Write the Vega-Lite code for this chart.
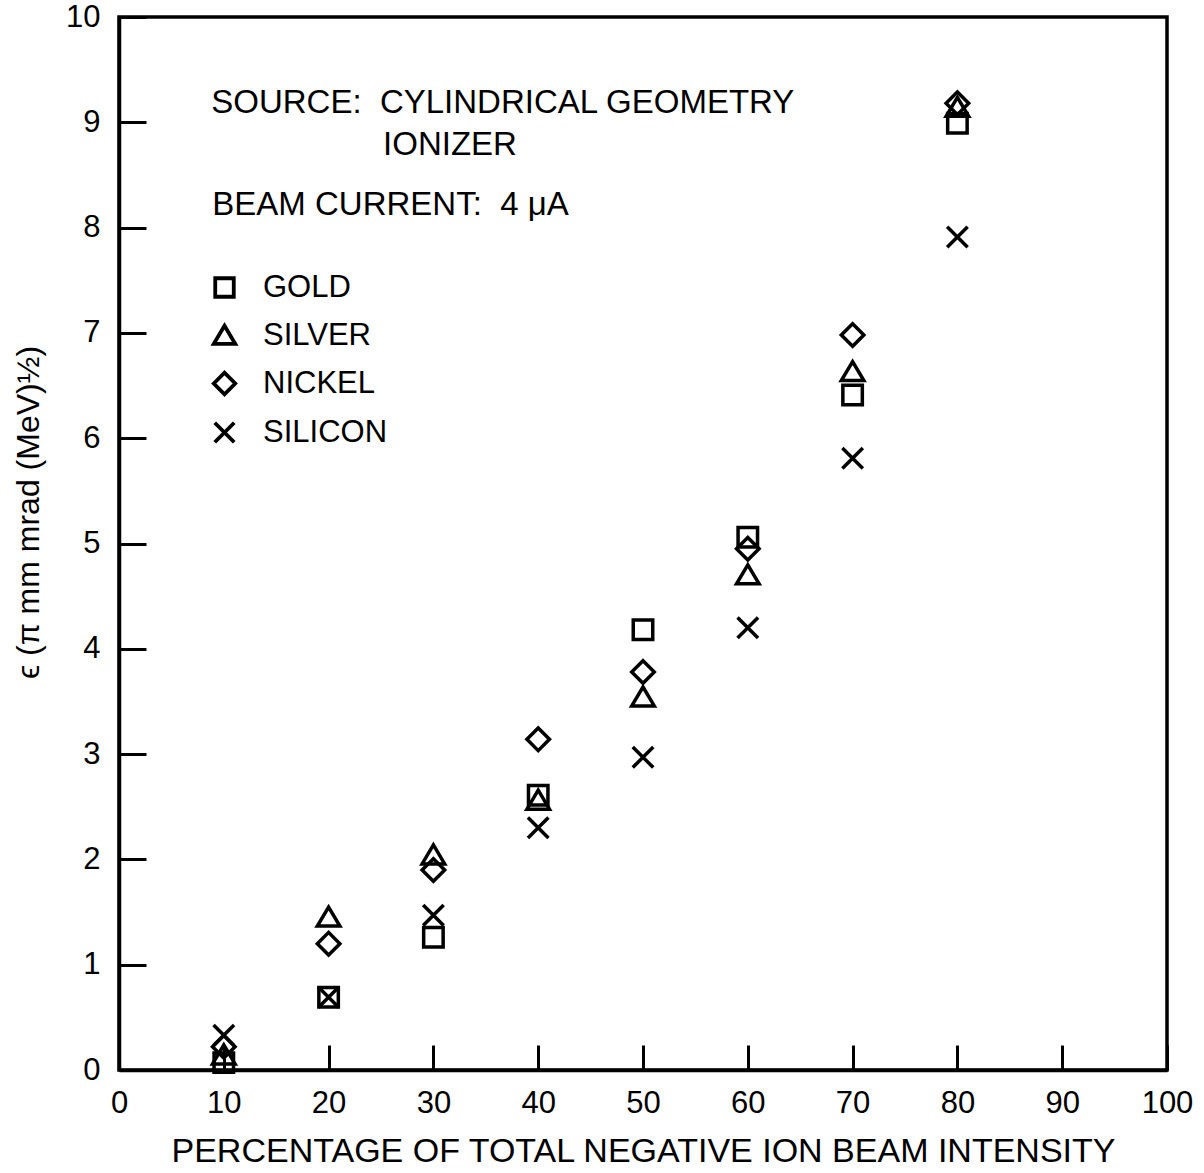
{
  "$schema": "https://vega.github.io/schema/vega-lite/v6.json",
  "width": 1048,
  "height": 1053,
  "autosize": {"type": "none"},
  "padding": {"left": 119, "top": 17, "right": 37, "bottom": 103},
  "background": "white",
  "config": {
    "font": "Liberation Sans",
    "view": {"stroke": "black", "strokeWidth": 3.5},
    "axis": {"grid": false, "domainColor": "black", "domainWidth": 3.5, "tickColor": "black", "tickWidth": 3, "labelColor": "black", "titleColor": "black", "labelFont": "Liberation Sans", "titleFont": "Liberation Sans", "titleFontWeight": "normal"}
  },
  "data": {"values": [
    {"pct": 10, "material": "GOLD", "emittance": 0.07},
    {"pct": 10, "material": "SILVER", "emittance": 0.14},
    {"pct": 10, "material": "NICKEL", "emittance": 0.22},
    {"pct": 10, "material": "SILICON", "emittance": 0.33},
    {"pct": 20, "material": "GOLD", "emittance": 0.69},
    {"pct": 20, "material": "SILVER", "emittance": 1.45},
    {"pct": 20, "material": "NICKEL", "emittance": 1.2},
    {"pct": 20, "material": "SILICON", "emittance": 0.69},
    {"pct": 30, "material": "GOLD", "emittance": 1.26},
    {"pct": 30, "material": "SILVER", "emittance": 2.04},
    {"pct": 30, "material": "NICKEL", "emittance": 1.9},
    {"pct": 30, "material": "SILICON", "emittance": 1.47},
    {"pct": 40, "material": "GOLD", "emittance": 2.61},
    {"pct": 40, "material": "SILVER", "emittance": 2.56},
    {"pct": 40, "material": "NICKEL", "emittance": 3.14},
    {"pct": 40, "material": "SILICON", "emittance": 2.3},
    {"pct": 50, "material": "GOLD", "emittance": 4.18},
    {"pct": 50, "material": "SILVER", "emittance": 3.54},
    {"pct": 50, "material": "NICKEL", "emittance": 3.78},
    {"pct": 50, "material": "SILICON", "emittance": 2.97},
    {"pct": 60, "material": "GOLD", "emittance": 5.06},
    {"pct": 60, "material": "SILVER", "emittance": 4.7},
    {"pct": 60, "material": "NICKEL", "emittance": 4.95},
    {"pct": 60, "material": "SILICON", "emittance": 4.2},
    {"pct": 70, "material": "GOLD", "emittance": 6.41},
    {"pct": 70, "material": "SILVER", "emittance": 6.63},
    {"pct": 70, "material": "NICKEL", "emittance": 6.98},
    {"pct": 70, "material": "SILICON", "emittance": 5.81},
    {"pct": 80, "material": "GOLD", "emittance": 8.99},
    {"pct": 80, "material": "SILVER", "emittance": 9.14},
    {"pct": 80, "material": "NICKEL", "emittance": 9.18},
    {"pct": 80, "material": "SILICON", "emittance": 7.91}
  ]},
  "layer": [
    {
      "mark": {"type": "point", "filled": false, "color": "black", "strokeWidth": 3.5, "size": 420, "opacity": 1},
      "encoding": {
        "x": {"field": "pct", "type": "quantitative", "scale": {"domain": [0, 100], "nice": false},
          "axis": {"values": [0, 10, 20, 30, 40, 50, 60, 70, 80, 90, 100], "format": "d", "tickSize": -25, "labelFontSize": 31, "labelPadding": 43, "labelFlush": false,
            "title": "PERCENTAGE OF TOTAL NEGATIVE ION BEAM INTENSITY", "titleFontSize": 34, "titlePadding": 16}},
        "y": {"field": "emittance", "type": "quantitative", "scale": {"domain": [0, 10], "nice": false},
          "axis": {"values": [0, 1, 2, 3, 4, 5, 6, 7, 8, 9, 10], "format": "d", "tickSize": -27, "labelFontSize": 31, "labelPadding": 46, "labelFlush": false,
            "title": "ϵ (π mm mrad (MeV)½)", "titleFontSize": 32, "titleX": -91, "titleY": 495, "titleAlign": "center", "titleBaseline": "middle", "titleAngle": -90}},
        "shape": {"field": "material", "type": "nominal",
          "scale": {"domain": ["GOLD", "SILVER", "NICKEL", "SILICON"],
            "range": ["M-0.95,-0.95H0.95V0.95H-0.95Z", "M0,-1L1.1,0.85H-1.1Z", "M-1.1,0L0,-1.1L1.1,0L0,1.1Z", "M-1,-1L1,1M1,-1L-1,1"]},
          "legend": {"title": null, "orient": "none", "legendX": 90, "legendY": 255, "labelFontSize": 31, "labelColor": "black", "labelFont": "Liberation Sans", "labelOffset": 23, "rowPadding": 13, "symbolSize": 380, "symbolStrokeWidth": 3.8, "symbolStrokeColor": "black", "symbolFillColor": "transparent"}}
      }
    },
    {
      "data": {"values": [{}]},
      "mark": {"type": "text", "align": "left", "baseline": "middle", "fontSize": 33, "fill": "black", "font": "Liberation Sans"},
      "encoding": {"x": {"datum": 8.8}, "y": {"datum": 9.18}, "text": {"value": "SOURCE:\u00a0\u00a0CYLINDRICAL GEOMETRY"}}
    },
    {
      "data": {"values": [{}]},
      "mark": {"type": "text", "align": "left", "baseline": "middle", "fontSize": 33, "fill": "black", "font": "Liberation Sans"},
      "encoding": {"x": {"datum": 25.2}, "y": {"datum": 8.78}, "text": {"value": "IONIZER"}}
    },
    {
      "data": {"values": [{}]},
      "mark": {"type": "text", "align": "left", "baseline": "middle", "fontSize": 33, "fill": "black", "font": "Liberation Sans"},
      "encoding": {"x": {"datum": 8.9}, "y": {"datum": 8.21}, "text": {"value": "BEAM CURRENT:\u00a0\u00a04 μA"}}
    }
  ]
}
